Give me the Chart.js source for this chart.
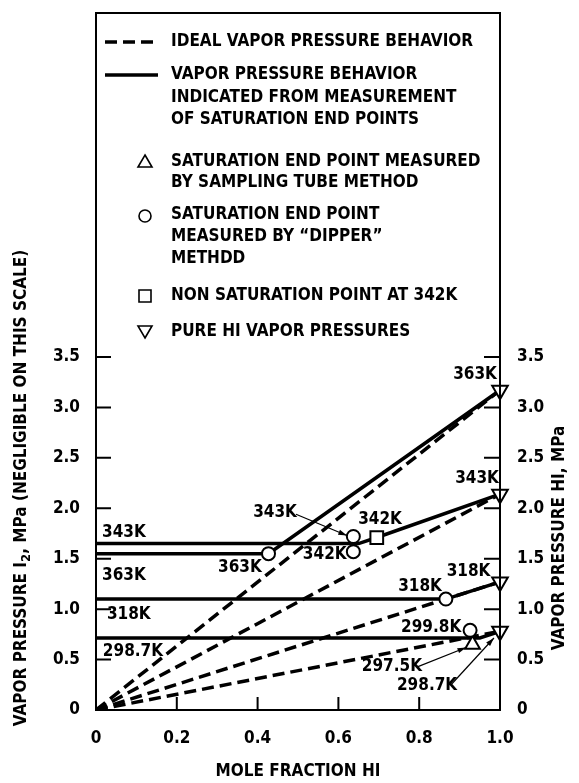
<!DOCTYPE html>
<html>
<head>
<meta charset="UTF-8">
<title>Vapor pressure of HI / I2</title>
<style>
  body { margin: 0; background: #fff; }
  .chartBox { width: 579px; height: 783px; }
</style>
</head>
<body>
<div class="chartBox"><canvas id="myChart"></canvas></div>
<script src="https://cdn.jsdelivr.net/npm/chart.js"></script>
<script>
// ------------------------- data -------------------------
const temps  = ['363K', '343K', '318K', '298.7K'];
const pureHI = [3.17, 2.14, 1.27, 0.78];          // HI vapor pressure at x = 1.0 (MPa)

// solid lines: behaviour indicated from saturation end points
const solid363X = [0, 0.427, 1.0];
const solid363Y = [1.55, 1.55, 3.17];
const solid343X = [0, 0.65, 0.695, 1.0];
const solid343Y = [1.65, 1.65, 1.71, 2.14];
const solid318X = [0, 0.866, 1.0];
const solid318Y = [1.10, 1.10, 1.27];
const solid2987X = [0, 0.95, 1.0];
const solid2987Y = [0.715, 0.715, 0.78];

// measured points
const dipperX = [0.427, 0.637, 0.637, 0.866, 0.926];
const dipperY = [1.55, 1.72, 1.57, 1.10, 0.79];
const tubeX = [0.932];
const tubeY = [0.65];
const nonSatX = [0.695];
const nonSatY = [1.71];

const xTicks = [0, 0.2, 0.4, 0.6, 0.8, 1.0];
const xTickLabels = ['0', '0.2', '0.4', '0.6', '0.8', '1.0'];
const yTicks = [0, 0.5, 1.0, 1.5, 2.0, 2.5, 3.0, 3.5];
const yTickLabels = ['0', '0.5', '1.0', '1.5', '2.0', '2.5', '3.0', '3.5'];

// temperature labels on the plot: text, x, y (data units, left / middle of text)
const pointLabels = [
  ['343K', 0.015, 1.76], ['363K', 0.015, 1.335], ['318K', 0.027, 0.95], ['298.7K', 0.017, 0.578],
  ['363K', 0.302, 1.41], ['343K', 0.389, 1.96], ['342K', 0.512, 1.54], ['342K', 0.649, 1.89],
  ['363K', 0.884, 3.33], ['343K', 0.889, 2.29], ['318K', 0.868, 1.37], ['318K', 0.748, 1.22],
  ['299.8K', 0.755, 0.82], ['297.5K', 0.658, 0.43], ['298.7K', 0.745, 0.24]
];
// leader arrows: x0, y0 -> x1, y1 (data units)
const arrows = [
  [0.495, 1.94, 0.621, 1.73],
  [0.797, 0.43, 0.916, 0.62],
  [0.881, 0.26, 0.985, 0.714]
];

const FONT = "'Liberation Sans Narrow', 'DejaVu Sans Condensed', sans-serif";

function pts(xs, ys) {
  return xs.map((x, i) => ({ x: x, y: ys[i] }));
}

function solid(xs, ys) {
  return { data: pts(xs, ys), showLine: true, borderColor: '#000', borderWidth: 3.5,
           pointRadius: 0, order: 3 };
}

// ------------------------- datasets -------------------------
const datasets = [
  { data: pts(dipperX, dipperY), pointStyle: 'circle', pointRadius: 6.5,
    backgroundColor: '#fff', borderColor: '#000', borderWidth: 2, clip: false, order: 1 },
  { data: pts(tubeX, tubeY), pointStyle: 'triangle', pointRadius: 8.5,
    backgroundColor: '#fff', borderColor: '#000', borderWidth: 2, clip: false, order: 1 },
  { data: pts(nonSatX, nonSatY), pointStyle: 'rect', pointRadius: 9,
    backgroundColor: '#fff', borderColor: '#000', borderWidth: 2, clip: false, order: 1 },
  { data: pts([1, 1, 1, 1], pureHI), pointStyle: 'triangle', rotation: 180, pointRadius: 9,
    backgroundColor: '#fff', borderColor: '#000', borderWidth: 2, clip: false, order: 1 },
  solid(solid363X, solid363Y),
  solid(solid343X, solid343Y),
  solid(solid318X, solid318Y),
  solid(solid2987X, solid2987Y)
];
// ideal (Raoult) lines from the origin to each pure HI point
temps.forEach((t, i) => {
  datasets.push({ data: [{ x: 0, y: 0 }, { x: 1, y: pureHI[i] }], showLine: true,
    borderColor: '#000', borderWidth: 3.5, borderDash: [12, 6], pointRadius: 0, order: 4 });
});

// ------------------------- drawing helpers -------------------------
function arrowLine(ctx, x0, y0, x1, y1) {
  ctx.beginPath();
  ctx.moveTo(x0, y0);
  ctx.lineTo(x1, y1);
  ctx.lineWidth = 1.2;
  ctx.stroke();
  const a = Math.atan2(y1 - y0, x1 - x0);
  ctx.beginPath();
  ctx.moveTo(x1, y1);
  ctx.lineTo(x1 - 9 * Math.cos(a - 0.3), y1 - 9 * Math.sin(a - 0.3));
  ctx.lineTo(x1 - 9 * Math.cos(a + 0.3), y1 - 9 * Math.sin(a + 0.3));
  ctx.closePath();
  ctx.fill();
}

// text made of runs, e.g. subscripts; centred on (cx, cy), optionally rotated
function runText(ctx, parts, cx, cy, rot) {
  ctx.save();
  ctx.translate(cx, cy);
  ctx.rotate(rot);
  ctx.textBaseline = 'middle';
  ctx.textAlign = 'left';
  let total = 0;
  parts.forEach(p => { ctx.font = 'bold ' + p.size + 'px ' + FONT; total += ctx.measureText(p.t).width; });
  let x = -total / 2;
  parts.forEach(p => {
    ctx.font = 'bold ' + p.size + 'px ' + FONT;
    ctx.fillText(p.t, x, p.dy || 0);
    x += ctx.measureText(p.t).width;
  });
  ctx.restore();
}

function legendSymbol(ctx, kind, x, y) {
  ctx.save();
  ctx.lineWidth = 1.6;
  ctx.beginPath();
  if (kind === 'up') {
    ctx.moveTo(x, y - 7); ctx.lineTo(x + 7, y + 5); ctx.lineTo(x - 7, y + 5); ctx.closePath();
  } else if (kind === 'down') {
    ctx.moveTo(x, y + 7); ctx.lineTo(x + 7, y - 5); ctx.lineTo(x - 7, y - 5); ctx.closePath();
  } else if (kind === 'circle') {
    ctx.arc(x, y, 6, 0, Math.PI * 2);
  } else {
    ctx.rect(x - 6, y - 6, 12, 12);
  }
  ctx.stroke();
  ctx.restore();
}

const decor = {
  id: 'decor',
  afterDraw(chart) {
    const ctx = chart.ctx;
    const a = chart.chartArea;
    const sx = chart.scales.x, sy = chart.scales.y;
    ctx.save();
    ctx.strokeStyle = '#000';
    ctx.fillStyle = '#000';

    // frame
    ctx.lineWidth = 2;
    ctx.strokeRect(a.left, a.top, a.right - a.left, a.bottom - a.top);

    // inward tick marks
    ctx.beginPath();
    yTicks.slice(1).forEach(v => {
      const py = sy.getPixelForValue(v);
      ctx.moveTo(a.left, py); ctx.lineTo(a.left + 15, py);
      ctx.moveTo(a.right, py); ctx.lineTo(a.right - 16, py);
    });
    xTicks.slice(1, -1).forEach(v => {
      const px = sx.getPixelForValue(v);
      ctx.moveTo(px, a.bottom); ctx.lineTo(px, a.bottom - 13);
    });
    ctx.stroke();

    // legend box contents
    ctx.font = 'bold 17px ' + FONT;
    ctx.textAlign = 'left';
    ctx.textBaseline = 'middle';
    ctx.lineWidth = 3.5;
    ctx.setLineDash([12, 6]);
    ctx.beginPath(); ctx.moveTo(105, 42); ctx.lineTo(158, 42); ctx.stroke();
    ctx.setLineDash([]);
    ctx.beginPath(); ctx.moveTo(105, 75); ctx.lineTo(158, 75); ctx.stroke();
    const legendText = [
      ['IDEAL VAPOR PRESSURE BEHAVIOR', 42],
      ['VAPOR PRESSURE BEHAVIOR', 75],
      ['INDICATED FROM MEASUREMENT', 98],
      ['OF SATURATION END POINTS', 120],
      ['SATURATION END POINT MEASURED', 162],
      ['BY SAMPLING TUBE METHOD', 183],
      ['SATURATION END POINT', 215],
      ['MEASURED BY \u201CDIPPER\u201D', 237],
      ['METHDD', 259],
      ['NON SATURATION POINT AT 342K', 296],
      ['PURE HI VAPOR PRESSURES', 332]
    ];
    legendText.forEach(l => ctx.fillText(l[0], 171, l[1]));
    legendSymbol(ctx, 'up', 145, 162);
    legendSymbol(ctx, 'circle', 145, 216);
    legendSymbol(ctx, 'square', 145, 296);
    legendSymbol(ctx, 'down', 145, 331);

    // temperature labels and leader arrows
    ctx.font = 'bold 17px ' + FONT;
    pointLabels.forEach(l => {
      ctx.fillText(l[0], sx.getPixelForValue(l[1]), sy.getPixelForValue(l[2]));
    });
    arrows.forEach(r => {
      arrowLine(ctx, sx.getPixelForValue(r[0]), sy.getPixelForValue(r[1]),
                sx.getPixelForValue(r[2]), sy.getPixelForValue(r[3]));
    });

    // axis titles
    runText(ctx, [{ t: 'MOLE FRACTION HI', size: 17 }], 298, 772, 0);
    runText(ctx, [{ t: 'VAPOR PRESSURE I', size: 17 }, { t: '2', size: 13, dy: 5 },
                  { t: ', MPa (NEGLIGIBLE ON THIS SCALE)', size: 17 }], 22, 488, -Math.PI / 2);
    runText(ctx, [{ t: 'VAPOR PRESSURE HI, MPa', size: 17 }], 560, 538, -Math.PI / 2);
    ctx.restore();
  }
};

// ------------------------- chart -------------------------
const tickFont = { family: FONT, size: 17, weight: 'bold' };

function noEdgePadding(scale) {
  scale.paddingTop = 0;
  scale.paddingBottom = 0;
  scale.paddingLeft = 0;
  scale.paddingRight = 0;
}

const config = {
  type: 'scatter',
  data: { datasets: datasets },
  options: {
    responsive: true,
    maintainAspectRatio: false,
    animation: false,
    layout: { padding: { top: 13, left: 0, right: 0, bottom: 0 } },
    plugins: { legend: { display: false }, tooltip: { enabled: false } },
    scales: {
      x: {
        type: 'linear', min: 0, max: 1,
        afterFit(scale) { scale.height = 73; noEdgePadding(scale); },
        afterBuildTicks(scale) { scale.ticks = xTicks.map(v => ({ value: v })); },
        grid: { display: false, drawTicks: false },
        border: { display: false },
        ticks: { autoSkip: false, maxRotation: 0, padding: 18, color: '#000', font: tickFont,
                 callback: (v, i) => xTickLabels[i] }
      },
      y: {
        type: 'linear', position: 'left', min: 0, max: 6.91,
        afterFit(scale) { scale.width = 96; noEdgePadding(scale); },
        afterBuildTicks(scale) { scale.ticks = yTicks.map(v => ({ value: v })); },
        grid: { display: false, drawTicks: false },
        border: { display: false },
        ticks: { autoSkip: false, padding: 16, color: '#000', font: tickFont,
                 callback: (v, i) => yTickLabels[i] }
      },
      y2: {
        type: 'linear', position: 'right', min: 0, max: 6.91,
        afterFit(scale) { scale.width = 79; noEdgePadding(scale); },
        afterBuildTicks(scale) { scale.ticks = yTicks.map(v => ({ value: v })); },
        grid: { display: false, drawTicks: false },
        border: { display: false },
        ticks: { autoSkip: false, padding: 17, color: '#000', font: tickFont,
                 callback: (v, i) => yTickLabels[i] }
      }
    }
  },
  plugins: [decor]
};

const myChart = new Chart(document.getElementById('myChart'), config);
</script>
</body>
</html>
